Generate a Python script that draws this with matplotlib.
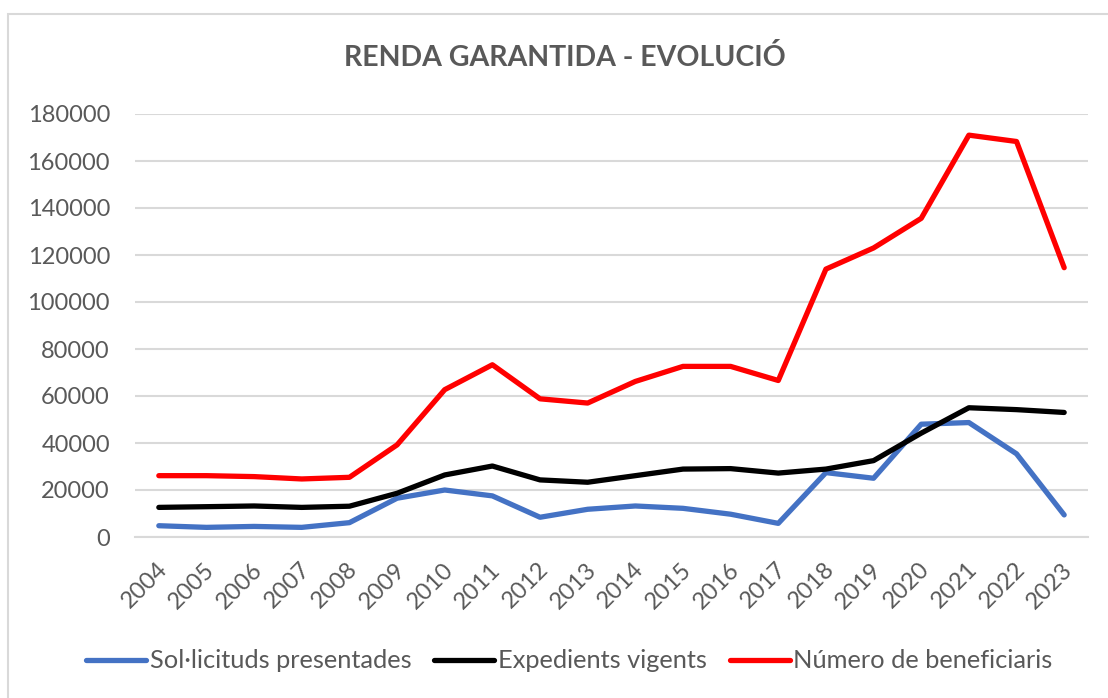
import numpy as np
import matplotlib.pyplot as plt
import matplotlib.transforms as mtransforms
from matplotlib.patches import Rectangle

plt.rcParams['font.family'] = ['Lato', 'DejaVu Sans']

years = [str(y) for y in range(2004, 2024)]

solicituds = [4800, 4100, 4500, 4100, 6100, 16500, 20000, 17500, 8400, 11800,
              13200, 12200, 9700, 5800, 27400, 25000, 48000, 48700, 35400, 9400]
expedients = [12600, 12900, 13200, 12600, 13100, 18600, 26400, 30200, 24300, 23300,
              26100, 28900, 29100, 27200, 28900, 32500, 44200, 55000, 54200, 53000]
beneficiaris = [26100, 26100, 25700, 24700, 25400, 39200, 62700, 73300, 58800, 57000,
                66200, 72600, 72600, 66600, 114000, 123000, 135600, 171000, 168300, 114600]

labels = ['Sol·licituds presentades', 'Expedients vigents', 'Número de beneficiaris']
colors = ['#4472C4', '#000000', '#FF0000']
yticks = list(range(0, 180001, 20000))

text_col = '#595959'

fig = plt.figure(figsize=(11.08, 6.98), dpi=100)
fig.patches.append(Rectangle((8 / 1108, -0.01), 1.02, 1 - 14 / 698 + 0.01,
                             transform=fig.transFigure, fill=False,
                             edgecolor='#d9d9d9', linewidth=1.5))

ax = fig.add_axes([135 / 1108, 1 - 537 / 698, (1088 - 135) / 1108, (537 - 114) / 698])
x = np.arange(len(years))
for series, lab, col in zip([solicituds, expedients, beneficiaris], labels, colors):
    ax.plot(x, series, color=col, linewidth=3.8, label=lab, solid_capstyle='round',
            solid_joinstyle='round')

ax.set_xlim(-0.5, len(years) - 0.5)
ax.set_ylim(0, 180000)
ax.set_yticks(yticks)
ax.set_yticklabels([str(v) for v in yticks])
ax.set_xticks(x)
ax.set_xticklabels(years, rotation=45, ha='right', va='center', rotation_mode='anchor')
ax.grid(axis='y', color='#d9d9d9', linewidth=1.5)
ax.set_axisbelow(True)
for s in ['top', 'right', 'left']:
    ax.spines[s].set_visible(False)
ax.spines['bottom'].set_color('#d9d9d9')
ax.spines['bottom'].set_linewidth(1.5)
ax.tick_params(axis='both', length=0, labelsize=17, colors=text_col)
ax.tick_params(axis='y', pad=18)
ax.tick_params(axis='x', pad=21)

# nudge year labels a little to the right
shift = mtransforms.ScaledTranslation(5 / 100, 0, fig.dpi_scale_trans)
for lbl in ax.get_xticklabels():
    lbl.set_transform(lbl.get_transform() + shift)

fig.text(0.51, 1 - 58 / 698, 'RENDA GARANTIDA - EVOLUCIÓ', ha='center', va='center',
         fontsize=20.5, fontweight='bold', color=text_col)

leg = fig.legend(loc='center', bbox_to_anchor=(0.514, 1 - 661 / 698), ncol=3,
                 frameon=False, fontsize=18.3, handlelength=2.35, handletextpad=0.15,
                 columnspacing=0.9)
for t in leg.get_texts():
    t.set_color(text_col)

fig.savefig('out.png', dpi=100)
